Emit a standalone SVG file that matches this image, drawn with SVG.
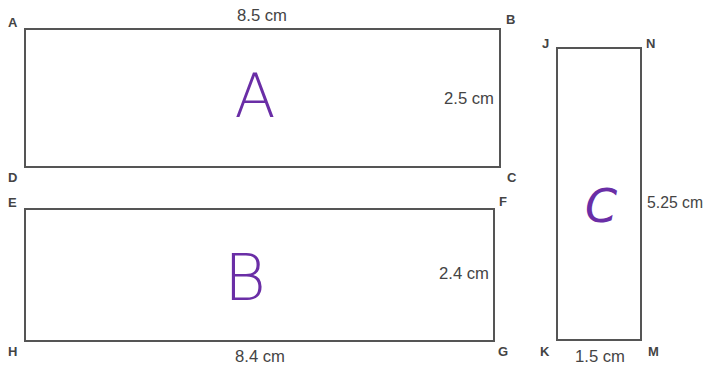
<svg xmlns="http://www.w3.org/2000/svg" width="707" height="368" viewBox="0 0 707 368">
<style>
.shape{fill:none;stroke:#555;stroke-width:2}
.pt{font-family:"Liberation Sans",Arial,sans-serif;font-size:13px;fill:#444;font-weight:bold}
.dim{font-family:"Liberation Sans",Arial,sans-serif;font-size:16px;fill:#444}
.hw{font-family:"DejaVu Sans","Noto Sans",sans-serif;fill:#6a2ea6;font-weight:200}
</style>
<rect width="707" height="368" fill="#fff"/>
<g id="rectA">
<rect class="shape" x="25" y="29" width="475" height="138"/>
<text class="pt" x="8" y="27">A</text>
<text class="pt" x="506" y="24">B</text>
<text class="pt" x="507" y="182">C</text>
<text class="pt" x="8" y="182">D</text>
<text class="dim" x="262" y="21" text-anchor="middle" textLength="50" lengthAdjust="spacingAndGlyphs">8.5 cm</text>
<text class="dim" x="494" y="104" text-anchor="end" textLength="50" lengthAdjust="spacingAndGlyphs">2.5 cm</text>
<text class="hw" x="255" y="117" font-size="60" text-anchor="middle">A</text>
</g>
<g id="rectB">
<rect class="shape" x="25" y="209" width="469" height="132"/>
<text class="pt" x="8" y="207">E</text>
<text class="pt" x="499" y="206">F</text>
<text class="pt" x="8" y="356">H</text>
<text class="pt" x="498" y="356">G</text>
<text class="dim" x="260" y="362" text-anchor="middle" textLength="50" lengthAdjust="spacingAndGlyphs">8.4 cm</text>
<text class="dim" x="489" y="279" text-anchor="end" textLength="50" lengthAdjust="spacingAndGlyphs">2.4 cm</text>
<text class="hw" x="245" y="300" font-size="64" text-anchor="middle">B</text>
</g>
<g id="rectC">
<rect class="shape" x="557" y="48" width="84" height="292"/>
<text class="pt" x="542" y="48">J</text>
<text class="pt" x="646" y="48">N</text>
<text class="pt" x="540" y="356">K</text>
<text class="pt" x="648" y="356">M</text>
<text class="dim" x="647" y="208" textLength="56" lengthAdjust="spacingAndGlyphs">5.25 cm</text>
<text class="dim" x="600" y="362" text-anchor="middle" textLength="50" lengthAdjust="spacingAndGlyphs">1.5 cm</text>
<text class="hw" x="601" y="222" font-size="46" font-style="italic" text-anchor="middle">C</text>
</g>
<g id="connectors"></g>
</svg>
